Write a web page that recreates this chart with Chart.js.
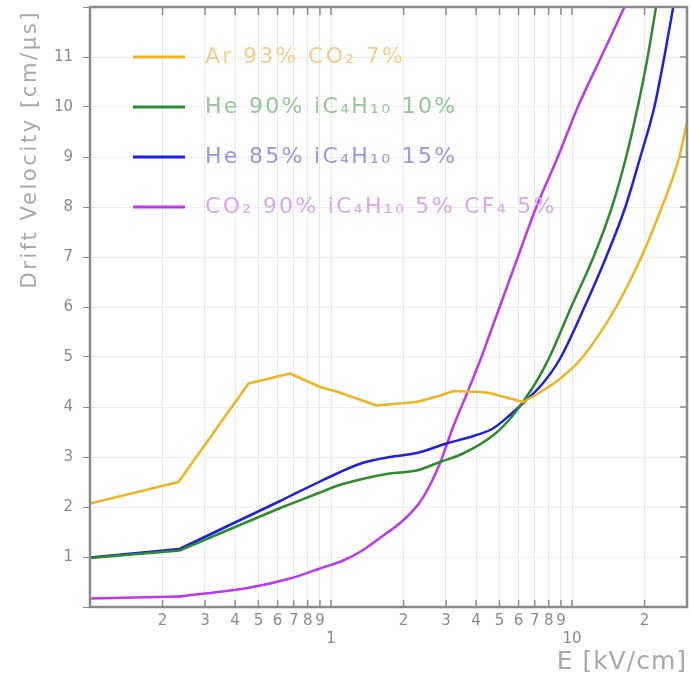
<!DOCTYPE html>
<html>
<head>
<meta charset="utf-8">
<script src="https://cdn.jsdelivr.net/npm/chart.js@4/dist/chart.umd.min.js"></script>
<style>
  html, body { margin: 0; padding: 0; background: #fff; }
  #wrap { width: 691px; height: 676px; }
</style>
</head>
<body>
<div id="wrap"><canvas id="c"></canvas></div>
<script>
// Gas mixtures
const seriesLabels = [
  'Ar 93% CO\u2082 7%',
  'He 90% iC\u2084H\u2081\u2080 10%',
  'He 85% iC\u2084H\u2081\u2080 15%',
  'CO\u2082 90% iC\u2084H\u2081\u2080 5% CF\u2084 5%'
];
const lineColors = ['#f2b41e', '#2a8c2a', '#1e1ee6', '#bb38f0'];
const textColors = ['#f6cc8c', '#95c795', '#9797e2', '#dca6ef'];

// Drift velocity [cm/us] versus field E [kV/cm]
const arE  = [0.1, 0.233, 0.4545, 0.676, 0.9, 1.069, 1.546, 2.265, 2.8, 3.21, 4.14, 4.55, 6.26, 7.4, 9.0, 11.08, 15.24, 19.4, 23.6, 27.87, 30];
const arV  = [2.07, 2.50, 4.47, 4.67, 4.40, 4.30, 4.03, 4.10, 4.22, 4.32, 4.30, 4.28, 4.10, 4.30, 4.58, 5.00, 6.00, 7.00, 8.00, 9.00, 9.70];

const he90E = [0.1, 0.235, 0.615, 0.9, 1.07, 1.35, 1.755, 2.265, 2.83, 3.53, 4.7, 5.5, 6.3, 7.2, 8.07, 9.92, 12.28, 14.64, 16.77, 18.73, 20.6, 22.32];
const he90V = [0.98, 1.13, 1.98, 2.29, 2.43, 2.56, 2.67, 2.73, 2.90, 3.07, 3.43, 3.75, 4.12, 4.55, 5.00, 6.00, 7.00, 8.00, 9.00, 10.00, 11.00, 12.00];

const he85E = [0.1, 0.235, 0.615, 0.9, 1.07, 1.35, 1.755, 2.265, 3.01, 3.9, 4.7, 5.5, 6.4, 7.5, 8.88, 11.27, 13.86, 16.65, 19.21, 21.96, 24.15, 26.3];
const he85V = [0.99, 1.16, 2.12, 2.51, 2.68, 2.88, 3.00, 3.08, 3.27, 3.42, 3.57, 3.83, 4.12, 4.45, 4.95, 6.00, 7.00, 8.00, 9.00, 10.00, 11.00, 12.00];

const co2E = [0.1, 0.235, 0.462, 0.676, 0.9, 1.124, 1.35, 1.596, 2.0, 2.34, 2.6, 2.83, 3.21, 3.65, 4.21, 4.55, 5.01, 5.96, 7.11, 8.73, 10.57, 13.21, 16.5];
const co2V = [0.17, 0.21, 0.39, 0.57, 0.77, 0.93, 1.13, 1.38, 1.74, 2.10, 2.48, 2.87, 3.60, 4.25, 5.00, 5.45, 6.00, 7.00, 8.00, 9.00, 10.00, 11.00, 12.00];

// Index of the last point of the straight low-field run of each curve
const straightUntil = [12, 2, 2, 1];

// Log axis ticks and their labels (1 and 10 sit one line lower)
const xTicks = [0.1, 0.2, 0.3, 0.4, 0.5, 0.6, 0.7, 0.8, 0.9,
                1, 2, 3, 4, 5, 6, 7, 8, 9,
                10, 20, 30];
const xTickLabels = ['', '2', '3', '4', '5', '6', '7', '8', '9',
                     ['', '1'], '2', '3', '4', '5', '6', '7', '8', '9',
                     ['', '10'], '2', ''];
const yTicks = [0, 1, 2, 3, 4, 5, 6, 7, 8, 9, 10, 11, 12];

const xTitle = 'E [kV/cm]';
const yTitle = 'Drift Velocity [cm/\u03bcs]';

const toPoints = (xs, ys) => xs.map((x, i) => ({ x: x, y: ys[i] }));
const seriesData = [toPoints(arE, arV), toPoints(he90E, he90V), toPoints(he85E, he85V), toPoints(co2E, co2V)];

// Each curve: straight segments at low field, a smooth spline above
const datasets = [];
seriesData.forEach((pts, i) => {
  const k = straightUntil[i];
  const common = {
    borderColor: lineColors[i],
    backgroundColor: lineColors[i],
    borderWidth: 2.5,
    borderCapStyle: 'round',
    borderJoinStyle: 'round',
    pointRadius: 0,
    fill: false
  };
  datasets.push(Object.assign({ label: seriesLabels[i], data: pts.slice(0, k + 1), tension: 0 }, common));
  datasets.push(Object.assign({ label: seriesLabels[i], data: pts.slice(k), cubicInterpolationMode: 'monotone' }, common));
});

const FONT = '"DejaVu Sans", sans-serif';
const AXIS_GRAY = '#8a8a8a';
const TITLE_GRAY = '#a8a8a8';

// Frame, inward tick marks, axis titles and the in-plot legend
const framePlugin = {
  id: 'frame',
  afterDraw(chart) {
    const { ctx, chartArea: a, scales } = chart;
    ctx.save();
    ctx.strokeStyle = AXIS_GRAY;
    ctx.lineWidth = 1.5;
    ctx.beginPath();
    scales.x.ticks.forEach(t => {
      const px = scales.x.getPixelForValue(t.value);
      if (px <= a.left + 1 || px >= a.right - 1) return;
      ctx.moveTo(px, a.bottom); ctx.lineTo(px, a.bottom - 7);
      ctx.moveTo(px, a.top); ctx.lineTo(px, a.top + 8);
    });
    scales.y.ticks.forEach(t => {
      const py = scales.y.getPixelForValue(t.value);
      if (py <= a.top + 1 || py >= a.bottom - 1) return;
      ctx.moveTo(a.right, py); ctx.lineTo(a.right - 7, py);
    });
    ctx.stroke();
    ctx.lineWidth = 2.5;
    ctx.strokeRect(a.left, a.top, a.right - a.left, a.bottom - a.top);

    // axis titles
    ctx.fillStyle = TITLE_GRAY;
    ctx.letterSpacing = '1px';
    ctx.font = '25px ' + FONT;
    ctx.textAlign = 'right';
    ctx.textBaseline = 'middle';
    ctx.fillText(xTitle, a.right, 662);

    ctx.save();
    ctx.letterSpacing = '2.6px';
    ctx.font = '21px ' + FONT;
    ctx.translate(31, a.top + 3);
    ctx.rotate(-Math.PI / 2);
    ctx.fillText(yTitle, 0, 0);
    ctx.restore();

    // legend rows at the heights of 11, 10, 9, 8
    ctx.font = '22px ' + FONT;
    ctx.letterSpacing = '2.3px';
    ctx.textBaseline = 'middle';
    ctx.textAlign = 'left';
    seriesLabels.forEach((label, i) => {
      const py = scales.y.getPixelForValue(11 - i);
      ctx.strokeStyle = lineColors[i];
      ctx.lineWidth = 3;
      ctx.beginPath();
      ctx.moveTo(a.left + 43, py); ctx.lineTo(a.left + 95, py);
      ctx.stroke();
      ctx.fillStyle = textColors[i];
      ctx.fillText(label, a.left + 115, py);
    });
    ctx.restore();
  }
};

const noEdgePadding = s => {
  s.paddingTop = 0; s.paddingBottom = 0; s.paddingLeft = 0; s.paddingRight = 0;
};

new Chart(document.getElementById('c'), {
  type: 'line',
  data: { datasets: datasets },
  options: {
    responsive: true,
    maintainAspectRatio: false,
    animation: false,
    layout: { padding: { top: 7, right: 4, left: 0, bottom: 0 } },
    plugins: { legend: { display: false }, tooltip: { enabled: false } },
    scales: {
      x: {
        type: 'logarithmic',
        min: 0.1,
        max: 30,
        afterBuildTicks: s => { s.ticks = xTicks.map(v => ({ value: v })); },
        afterFit: s => { s.height = 69; noEdgePadding(s); },
        grid: { color: '#e8e8e8', lineWidth: 1, drawTicks: false },
        border: { display: false },
        ticks: {
          autoSkip: false,
          maxRotation: 0,
          padding: 5,
          color: AXIS_GRAY,
          font: { family: FONT, size: 15 },
          callback: (v, i) => xTickLabels[i]
        }
      },
      y: {
        type: 'linear',
        min: 0,
        max: 12,
        afterBuildTicks: s => { s.ticks = yTicks.map(v => ({ value: v })); },
        afterFit: s => { s.width = 90; noEdgePadding(s); },
        grid: { color: '#ececec', lineWidth: 1, tickLength: 7, tickColor: AXIS_GRAY },
        border: { display: false },
        ticks: {
          padding: 10,
          color: AXIS_GRAY,
          font: { family: FONT, size: 15 },
          callback: v => (v === 0 || v === 12) ? '' : String(v)
        }
      }
    }
  },
  plugins: [framePlugin]
});
</script>
</body>
</html>
